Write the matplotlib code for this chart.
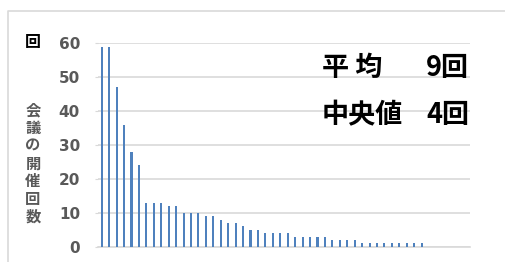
import matplotlib
matplotlib.use('Agg')
import matplotlib.pyplot as plt
import numpy as np

plt.rcParams['font.family'] = ['Noto Sans CJK JP', 'DejaVu Sans']

# 会議の開催回数（多い順）
counts = [59, 59, 47, 36, 28, 24, 13, 13, 13, 12, 12, 10, 10, 10, 9, 9, 8, 7, 7, 6,
          5, 5, 4, 4, 4, 4, 3, 3, 3, 3, 3, 2, 2, 2, 2, 1, 1, 1, 1, 1,
          1, 1, 1, 1, 0, 0, 0, 0, 0, 0]
yticks = [0, 10, 20, 30, 40, 50, 60]
ylabel = '会議の開催回数'
unit = '回'
stats = [('平 均', '9回'), ('中央値', '4回')]

fig = plt.figure(figsize=(5.05, 2.62), dpi=100)
ax = fig.add_axes([98 / 505, 1 - 246.7 / 262, 372 / 505, 203.4 / 262])

idx = np.arange(len(counts))
ax.bar(idx, counts, width=0.28, color='#4F81BD', zorder=3)

ax.set_xlim(-0.5, len(counts) - 0.5)
ax.set_ylim(0, 60)
ax.set_yticks(yticks)
ax.set_xticks([])
ax.grid(axis='y', color='#d9d9d9', linewidth=1.2, zorder=0)
for s in ['top', 'right', 'left']:
    ax.spines[s].set_visible(False)
ax.spines['bottom'].set_color('#d9d9d9')
ax.spines['bottom'].set_linewidth(1.2)
ax.tick_params(axis='y', length=2, color='#d9d9d9', pad=11,
               labelsize=11, labelcolor='#595959')
for lab in ax.get_yticklabels():
    lab.set_fontweight('bold')
    lab.set_family('DejaVu Sans')

# 単位と縦書きの軸ラベル
fig.text(33 / 505, 1 - 42 / 262, unit, ha='center', va='center',
         fontsize=11.5, fontweight='bold', color='black')
fig.text(33 / 505, 1 - 163.5 / 262, '\n'.join(ylabel), ha='center', va='center',
         fontsize=11, fontweight='bold', color='#595959', linespacing=1.12)

# 平均・中央値
for i, (name, val) in enumerate(stats):
    y = 1 - (68 + i * 47) / 262
    fig.text(322 / 505, y, name, ha='left', va='center',
             fontsize=19.5, fontweight='bold', color='black')
    fig.text(426 / 505, y, val, ha='left', va='center',
             fontsize=19.5, fontweight='bold', color='black')

# 外枠
fig.add_artist(plt.Line2D([8 / 505, 8 / 505, 1], [0, 1 - 10.5 / 262, 1 - 10.5 / 262],
                          transform=fig.transFigure, color='#d9d9d9', linewidth=1.2))

fig.savefig('out.png', dpi=100)
